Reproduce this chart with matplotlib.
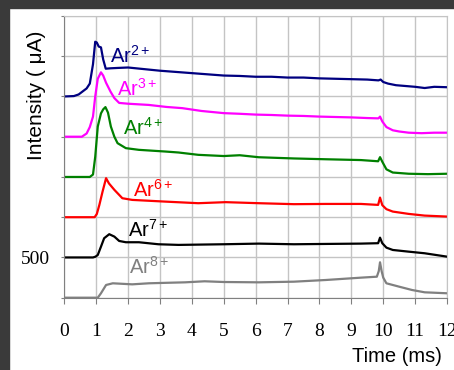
import matplotlib
matplotlib.use('Agg')
import matplotlib.pyplot as plt
from matplotlib.patches import Rectangle

plt.rcParams['mathtext.fontset'] = 'custom'
plt.rcParams['mathtext.rm'] = 'Liberation Sans'
plt.rcParams['mathtext.it'] = 'Liberation Sans:italic'

# time (ms) and intensity (uA, stacked with 500 offsets)
t_ar2 = [0, 0.3, 0.45, 0.6, 0.7, 0.8, 0.9, 0.97, 1.02, 1.08, 1.15, 1.22, 1.3, 1.45, 1.7, 2.0, 2.5, 3.0, 3.5, 4.0,
         4.5, 5.0, 5.5, 6.0, 6.5, 7.0, 7.5, 8.0, 8.5, 9.0, 9.5, 9.85, 9.92, 10.0, 10.15, 10.4, 10.7, 11.0, 11.3, 11.6, 12.0]
v_ar2 = [2500, 2505, 2525, 2570, 2600, 2660, 2900, 3180, 3170, 3120, 3110, 2960, 2845, 2850, 2855, 2860, 2840, 2820,
         2805, 2790, 2775, 2760, 2755, 2745, 2745, 2735, 2735, 2725, 2720, 2715, 2710, 2700, 2710, 2680, 2660, 2640,
         2630, 2620, 2605, 2620, 2615]

t_ar3 = [0, 0.55, 0.7, 0.8, 0.9, 0.97, 1.05, 1.15, 1.22, 1.31, 1.45, 1.57, 1.72, 2.0, 2.65, 3.2, 3.7, 4.3, 5.0, 5.5,
         6.0, 6.5, 7.0, 7.5, 8.0, 8.5, 9.0, 9.5, 9.85, 9.9, 9.97, 10.1, 10.3, 10.5, 10.8, 11.2, 11.6, 12.0]
v_ar3 = [2000, 2000, 2040, 2120, 2250, 2500, 2720, 2800, 2760, 2670, 2560, 2480, 2420, 2410, 2395, 2370, 2355, 2320,
         2293, 2285, 2275, 2270, 2262, 2258, 2250, 2245, 2240, 2232, 2228, 2250, 2190, 2120, 2080, 2065, 2050, 2044,
         2050, 2050]

t_ar4 = [0, 0.8, 0.9, 0.97, 1.05, 1.15, 1.22, 1.29, 1.37, 1.46, 1.57, 1.67, 1.93, 2.34, 3.17, 3.58, 4.2, 5.0, 5.5,
         6.1, 7.2, 8.2, 9.3, 9.84, 9.9, 9.97, 10.1, 10.3, 10.8, 11.4, 12.0]
v_ar4 = [1500, 1500, 1530, 1750, 2127, 2290, 2340, 2368, 2300, 2127, 2000, 1920, 1858, 1837, 1816, 1804, 1775, 1760,
         1770, 1745, 1730, 1720, 1710, 1695, 1746, 1690, 1595, 1555, 1540, 1535, 1540]

t_ar6 = [0, 0.95, 1.02, 1.1, 1.2, 1.31, 1.4, 1.57, 1.82, 2.13, 3.16, 4.2, 5.06, 6.1, 7.2, 8.2, 9.3, 9.84, 9.9, 9.97,
         10.1, 10.3, 10.8, 11.3, 12.0]
v_ar6 = [1000, 1000, 1040, 1153, 1318, 1485, 1420, 1340, 1236, 1215, 1194, 1174, 1187, 1174, 1162, 1165, 1165, 1153,
         1244, 1150, 1100, 1070, 1041, 1020, 1008]

t_ar7 = [0, 0.9, 0.98, 1.05, 1.15, 1.25, 1.41, 1.57, 1.72, 1.93, 2.34, 2.95, 3.58, 5.0, 6.1, 7.2, 8.2, 9.3, 9.84,
         9.9, 9.97, 10.1, 10.3, 10.8, 11.3, 12.0]
v_ar7 = [500, 500, 510, 531, 634, 739, 789, 759, 705, 689, 689, 664, 656, 664, 672, 664, 668, 672, 677, 746, 677,
         622, 593, 572, 552, 510]

t_ar8 = [0, 1.05, 1.15, 1.31, 1.52, 2.13, 2.65, 3.2, 3.79, 4.4, 5.0, 6.1, 7.2, 8.2, 9.3, 9.8, 9.86, 9.9, 9.95,
         10.0, 10.1, 10.5, 10.9, 11.3, 12.0]
v_ar8 = [0, 0, 55, 158, 179, 166, 179, 185, 191, 204, 195, 191, 199, 220, 249, 261, 330, 440, 330, 250, 179, 137,
         96, 67, 55]

series = [
    (t_ar2, v_ar2, '#000080', '2+', 1.43, 2923),
    (t_ar3, v_ar3, '#ff00ff', '3+', 1.66, 2513),
    (t_ar4, v_ar4, '#008000', '4+', 1.83, 2024),
    (t_ar6, v_ar6, '#ff0000', '6+', 2.16, 1252),
    (t_ar7, v_ar7, '#000000', '7+', 1.99, 759),
    (t_ar8, v_ar8, '#808080', '8+', 2.04, 303),
]

fig = plt.figure(figsize=(4.54, 3.70), dpi=100)
ax = fig.add_axes([0.1416, 0.1954, 0.843, 0.7614])

for t, v, c, charge, lx, ly in series:
    ax.plot(t, v, color=c, lw=1.6)
    ax.text(lx, ly, 'Ar$^{\\mathrm{' + charge + '}}$', color=c, fontsize=14.5,
            family='Liberation Sans', va='baseline', ha='left')

ax.set_xlim(0, 12)
ax.set_ylim(0, 3500)
ax.set_xticks(range(0, 13))
ax.set_yticks(range(0, 3501, 500))
ax.set_yticklabels(['' if y != 500 else '500' for y in range(0, 3501, 500)])
ax.grid(True, color='#c4c4c4', lw=1)
ax.set_axisbelow(True)
for s in ['top', 'right']:
    ax.spines[s].set_color('#c4c4c4')
for s in ['left', 'bottom']:
    ax.spines[s].set_color('#808080')
ax.tick_params(axis='x', direction='out', length=4.3, color='#808080', pad=14, labelsize=14)
ax.tick_params(axis='y', direction='out', length=2.5, color='#808080', pad=8, labelsize=14)
for lab in ax.get_xticklabels() + ax.get_yticklabels():
    lab.set_family('Liberation Serif')

fig.text(37 / 454, 1 - 95 / 370, 'Intensity ( μA)', rotation=90, ha='center', va='center',
         fontsize=15, family='Liberation Sans')
fig.text(442 / 454, 1 - 361.7 / 370, 'Time (ms)', ha='right', va='baseline',
         fontsize=14.5, family='Liberation Sans')

# dark frame along top and left edge
fig.patches.append(Rectangle((0, 1 - 8 / 370), 1, 8 / 370, transform=fig.transFigure, color='#3a3a3a', zorder=0))
fig.patches.append(Rectangle((0, 0), 9 / 454, 1, transform=fig.transFigure, color='#3a3a3a', zorder=0))

fig.savefig('out.png', dpi=100)
